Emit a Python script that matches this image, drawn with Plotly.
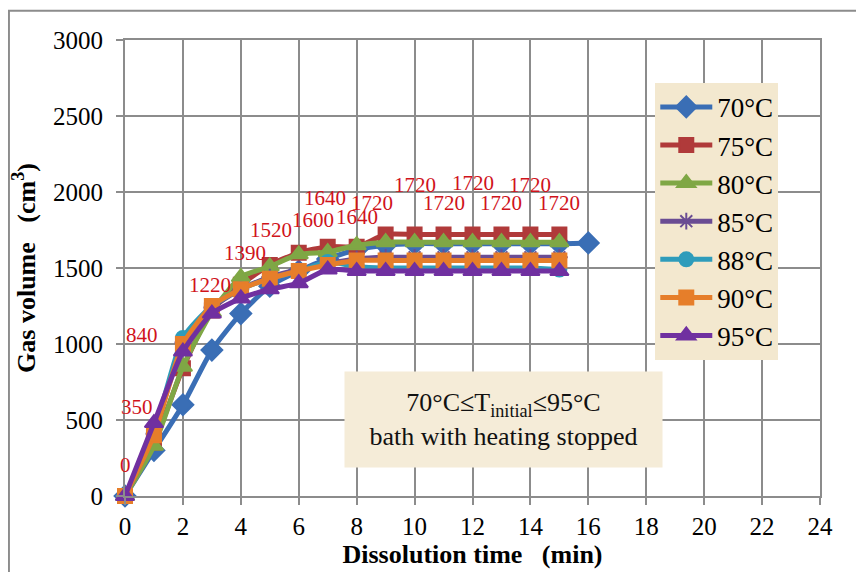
import plotly.graph_objects as go

time_70 = list(range(0, 17))
time_std = list(range(0, 16))

v70 = [0, 300, 600, 960, 1200, 1380, 1480, 1560, 1620, 1650, 1660, 1660, 1660, 1660, 1660, 1660, 1665]
v75 = [0, 350, 840, 1220, 1390, 1520, 1600, 1640, 1640, 1720, 1720, 1720, 1720, 1720, 1720, 1720]
v80 = [0, 330, 850, 1210, 1440, 1510, 1590, 1605, 1650, 1670, 1670, 1670, 1670, 1670, 1670, 1670]
v85 = [0, 410, 1010, 1240, 1360, 1440, 1490, 1530, 1560, 1570, 1570, 1570, 1570, 1570, 1570, 1570]
v88 = [0, 420, 1040, 1250, 1360, 1430, 1480, 1540, 1510, 1500, 1500, 1500, 1500, 1500, 1500, 1490]
v90 = [0, 400, 1000, 1250, 1360, 1430, 1480, 1520, 1550, 1550, 1550, 1550, 1550, 1550, 1550, 1550]
v95 = [0, 480, 950, 1200, 1300, 1360, 1400, 1490, 1480, 1480, 1480, 1480, 1480, 1480, 1480, 1480]

labels_75 = ["0", "350", "840", "1220", "1390", "1520", "1600", "1640", "1640",
             "1720", "1720", "1720", "1720", "1720", "1720", "1720"]
label_dx = [0, -17, -41, -2, 4, 1, 14, -3, 0, -14, 0, 0, 0, 0, 0, 0]
label_dy = [31, 36, 33, 26, 32, 35, 33, 49, 30, 32, 50, 32, 52, 32, 50, 32]

series = [
    ("70°C", time_70, v70, "#3A6EB5", "diamond", 16),
    ("75°C", time_std, v75, "#B03A3A", "square", 14),
    ("80°C", time_std, v80, "#7FA745", "triangle-up", 16),
    ("85°C", time_std, v85, "#6A4C93", "asterisk-open", 14),
    ("88°C", time_std, v88, "#2E9CBB", "circle", 14),
    ("90°C", time_std, v90, "#E67E2A", "square", 14),
    ("95°C", time_std, v95, "#7030A0", "triangle-up", 16),
]

FONT = "Liberation Serif"

fig = go.Figure()
for name, xs, ys, color, sym, size in series:
    fig.add_trace(go.Scatter(
        x=xs, y=ys, name=name, mode="lines+markers",
        line=dict(color=color, width=5, shape="spline", smoothing=0.6),
        marker=dict(symbol=sym, size=size, color=color,
                    line=dict(color=color, width=2)),
        cliponaxis=False,
    ))

for x, y, t, dx, dy in zip(time_std, v75, labels_75, label_dx, label_dy):
    fig.add_annotation(x=x, y=y, text=t, showarrow=False,
                       xshift=dx, yshift=dy,
                       font=dict(family=FONT, size=21, color="#D0131B"))

fig.add_annotation(
    x=13.07, y=503, xref="x", yref="y",
    text="70°C≤T<sub>initial</sub>≤95°C<br>bath with heating stopped",
    showarrow=False, font=dict(family=FONT, size=26, color="#111111"),
    bgcolor="#F5ECD8", borderpad=0, width=317, height=95,
)

fig.add_shape(type="rect", xref="paper", yref="paper",
              x0=-0.167, y0=-0.3, x1=1.2, y1=1.064,
              line=dict(color="#8C8C8C", width=2), layer="below")

fig.update_layout(
    width=864, height=572,
    margin=dict(l=117, r=52, t=32, b=84, autoexpand=False),
    paper_bgcolor="white", plot_bgcolor="white",
    font=dict(family=FONT, color="black"),
    showlegend=True,
    legend=dict(x=0.763, y=0.906, xanchor="left", yanchor="top",
                bgcolor="#F3E8CF", borderwidth=0,
                font=dict(family=FONT, size=27),
                itemwidth=52, tracegroupgap=2),
    xaxis=dict(range=[0, 24], dtick=2, tick0=0, automargin=False,
               showgrid=True, gridcolor="#8C8C8C", gridwidth=2,
               showline=True, linecolor="#8C8C8C", linewidth=2, mirror=True,
               ticks="outside", ticklen=7, tickcolor="#8C8C8C", tickwidth=2,
               zeroline=False,
               tickfont=dict(family=FONT, size=25),
               title=dict(text="<b>Dissolution time   (min)</b>",
                          font=dict(family=FONT, size=26), standoff=4)),
    yaxis=dict(range=[0, 3000], dtick=500, automargin=False,
               showgrid=True, gridcolor="#8C8C8C", gridwidth=2,
               showline=True, linecolor="#8C8C8C", linewidth=2, mirror=True,
               ticks="outside", ticklen=7, tickcolor="#8C8C8C", tickwidth=2,
               zeroline=False, ticklabelstandoff=8,
               tickfont=dict(family=FONT, size=25),
               title=dict(text="<b>Gas volume   (cm<sup>3</sup>)</b>",
                          font=dict(family=FONT, size=26), standoff=10)),
)

fig.write_html("out.html")
